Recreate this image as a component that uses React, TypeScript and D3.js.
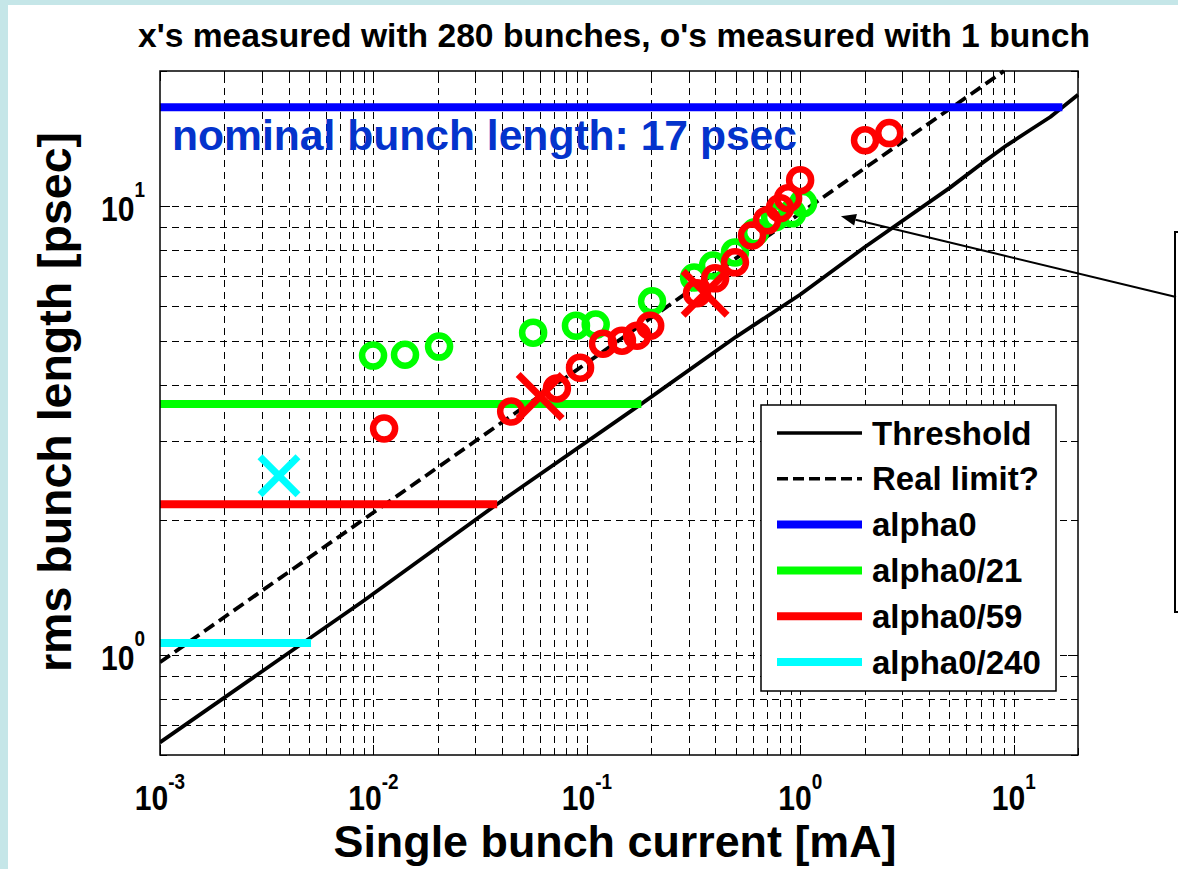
import React from "react";
import * as d3 from "d3";

// ---------- data ----------
const xDomain: [number, number] = [1e-3, 20];
const yDomain: [number, number] = [0.6, 20];

const xMajorTicks = [1e-3, 1e-2, 1e-1, 1, 10];
const xTickExponents = ["-3", "-2", "-1", "0", "1"];
const yMajorTicks = [1, 10];
const yTickExponents = ["0", "1"];

// Threshold (solid black)
const thresholdX = [0.001, 0.00893, 0.0379, 0.18, 0.5, 1.0, 2.0, 5.03, 7.11, 9.31, 11.94, 14.83, 20];
const thresholdY = [0.64, 1.32, 2.17, 3.63, 5.12, 6.36, 8.1, 11.0, 12.47, 13.68, 14.78, 15.8, 17.7];

// "Real limit?" (dashed black)
const realLimitX = [0.001, 0.01, 0.1, 1, 9];
const realLimitY = [0.965, 2.08, 4.48, 9.65, 20];

// Horizontal bunch-length lines
const alphaLabels = ["alpha0", "alpha0/21", "alpha0/59", "alpha0/240"];
const alphaColors = ["#0000ff", "#00ff00", "#ff0000", "#00ffff"];
const alphaLevel = [16.6, 3.63, 2.17, 1.065];
const alphaEndX = [16.9, 0.18, 0.038, 0.0051];

// o's measured with 1 bunch
const greenCircX = [0.00996, 0.01406, 0.0203, 0.056, 0.0889, 0.11, 0.202, 0.318, 0.39, 0.494, 0.614, 0.762, 0.916, 1.03];
const greenCircY = [4.65, 4.67, 4.87, 5.23, 5.42, 5.45, 6.14, 6.94, 7.38, 7.89, 8.75, 9.45, 9.64, 10.16];
const redCircX = [0.01122, 0.0442, 0.0724, 0.0929, 0.119, 0.146, 0.172, 0.198, 0.328, 0.399, 0.494, 0.594, 0.698, 0.803, 0.877, 0.998, 2.01, 2.61];
const redCircY = [3.2, 3.49, 3.93, 4.37, 4.94, 5.02, 5.15, 5.42, 6.4, 6.91, 7.5, 8.61, 9.3, 9.9, 10.42, 11.43, 14.03, 14.55];

// x's measured with 280 bunches
const redCrossX = [0.0604, 0.358];
const redCrossY = [3.77, 6.4];
const cyanCrossX = [0.00361];
const cyanCrossY = [2.51];

// ---------- layout ----------
const W = 1178;
const H = 869;
const PL = 160, PR = 1078, PT = 71, PB = 755;
const FONT = "'Liberation Sans', Arial, Helvetica, sans-serif";

export default function App() {
  const x = d3.scaleLog().domain(xDomain).range([PL, PR]);
  const y = d3.scaleLog().domain(yDomain).range([PB, PT]);
  const line = d3
    .line<[number, number]>()
    .x((d) => x(d[0]))
    .y((d) => y(d[1]));
  const crisp = (v: number) => Math.round(v) + 0.5;

  const xGrid: number[] = [];
  for (let e = -3; e <= 1; e++)
    for (let k = 1; k <= 9; k++) {
      const v = k * Math.pow(10, e);
      if (v >= xDomain[0] * 0.999 && v <= xDomain[1] * 1.001) xGrid.push(v);
    }
  xGrid.push(20);
  const yGrid: number[] = [];
  for (let e = -1; e <= 1; e++)
    for (let k = 1; k <= 9; k++) {
      const v = k * Math.pow(10, e);
      if (v >= yDomain[0] * 0.999 && v <= yDomain[1] * 1.001) yGrid.push(v);
    }
  yGrid.push(20);

  const isMajor = (v: number) => Math.abs(Math.log10(v) - Math.round(Math.log10(v))) < 1e-6;

  const threshold = thresholdX.map((v, i) => [v, thresholdY[i]] as [number, number]);
  const realLimit = realLimitX.map((v, i) => [v, realLimitY[i]] as [number, number]);

  const legendRows = [
    { label: "Threshold", color: "#000", width: 3.5, dash: undefined as string | undefined },
    { label: "Real limit?", color: "#000", width: 3.5, dash: "11,5" },
    ...alphaLabels.map((l, i) => ({ label: l, color: alphaColors[i], width: 8, dash: undefined as string | undefined })),
  ];

  const cross = (cx: number, cy: number, s: number, color: string, key: string) => (
    <g key={key} stroke={color} strokeWidth={7} strokeLinecap="butt">
      <line x1={cx - s} y1={cy - s} x2={cx + s} y2={cy + s} />
      <line x1={cx - s} y1={cy + s} x2={cx + s} y2={cy - s} />
    </g>
  );

  const arrowTipX = x(1.55);
  const arrowTipY = y(9.5);
  const arrowTailX = 1176, arrowTailY = 297;
  const ang = Math.atan2(arrowTipY - arrowTailY, arrowTipX - arrowTailX);
  const ah = 15, aw = 6;
  const bx = arrowTipX - ah * Math.cos(ang), by = arrowTipY - ah * Math.sin(ang);
  const headPts = [
    [arrowTipX, arrowTipY],
    [bx + aw * Math.sin(ang), by - aw * Math.cos(ang)],
    [bx - aw * Math.sin(ang), by + aw * Math.cos(ang)],
  ]
    .map((p) => p.join(","))
    .join(" ");

  const TSX = 0.86; // horizontal squeeze of tick labels

  return (
    <svg
      width={W}
      height={H}
      style={{ position: "absolute", left: 0, top: 0, display: "block" }}
      fontFamily={FONT}
      fontWeight="bold"
    >
      <defs>
        <clipPath id="plotClip">
          <rect x={PL} y={PT - 2} width={PR - PL + 4} height={PB - PT + 2} />
        </clipPath>
      </defs>
      <rect x={0} y={0} width={W} height={H} fill="#c5e6e8" />
      <rect x={8} y={5} width={W - 8} height={H - 5} fill="#ffffff" />

      {/* title */}
      <text x={614} y={47} textAnchor="middle" fontSize={33} textLength={952} lengthAdjust="spacingAndGlyphs">
        x's measured with 280 bunches, o's measured with 1 bunch
      </text>

      {/* plot background */}
      <rect x={PL} y={PT} width={PR - PL} height={PB - PT} fill="#fff" />

      {/* grid */}
      <g stroke="#000" strokeWidth={1} strokeDasharray="7,5" shapeRendering="crispEdges">
        {xGrid
          .filter((v) => x(v) > PL + 1 && x(v) < PR - 1)
          .map((v, i) => (
            <line key={"gx" + i} x1={crisp(x(v))} x2={crisp(x(v))} y1={PB} y2={PT} />
          ))}
        {yGrid
          .filter((v) => y(v) > PT + 1 && y(v) < PB - 1)
          .map((v, i) => (
            <line key={"gy" + i} x1={PL} x2={PR} y1={crisp(y(v))} y2={crisp(y(v))} />
          ))}
      </g>

      {/* ticks */}
      <g stroke="#000" strokeWidth={1} shapeRendering="crispEdges">
        {xGrid.map((v, i) => {
          const L = isMajor(v) ? 10 : 7;
          const xx = crisp(x(v));
          return (
            <g key={"tx" + i}>
              <line x1={xx} x2={xx} y1={PB} y2={PB - L} />
              <line x1={xx} x2={xx} y1={PT} y2={PT + L} />
            </g>
          );
        })}
        {yGrid.map((v, i) => {
          const L = isMajor(v) ? 10 : 7;
          const yy = crisp(y(v));
          return (
            <g key={"ty" + i}>
              <line x1={PL} x2={PL + L} y1={yy} y2={yy} />
              <line x1={PR} x2={PR - L} y1={yy} y2={yy} />
            </g>
          );
        })}
      </g>

      {/* data lines */}
      <g clipPath="url(#plotClip)">
        <path d={line(threshold) || ""} fill="none" stroke="#000" strokeWidth={3.8} strokeLinejoin="round" />
        <path d={line(realLimit) || ""} fill="none" stroke="#000" strokeWidth={3.8} strokeDasharray="12,6" />
        {alphaLevel.map((lv, i) => (
          <path
            key={"al" + i}
            d={line([[xDomain[0], lv], [alphaEndX[i], lv]]) || ""}
            stroke={alphaColors[i]}
            strokeWidth={8}
            fill="none"
          />
        ))}
      </g>

      {/* circles */}
      <g fill="none" strokeWidth={6.5}>
        {greenCircX.map((v, i) => (
          <circle key={"gc" + i} cx={x(v)} cy={y(greenCircY[i])} r={11} stroke="#00ff00" />
        ))}
        {redCircX.map((v, i) => (
          <circle key={"rc" + i} cx={x(v)} cy={y(redCircY[i])} r={11} stroke="#ff0000" />
        ))}
      </g>
      {redCrossX.map((v, i) => cross(x(v), y(redCrossY[i]), 22, "#ff0000", "rx" + i))}
      {cyanCrossX.map((v, i) => cross(x(v), y(cyanCrossY[i]), 19, "#00ffff", "cx" + i))}

      {/* nominal text */}
      <text x={172} y={150} fontSize={42} fill="#0433cc" textLength={625} lengthAdjust="spacingAndGlyphs">
        nominal bunch length: 17 psec
      </text>

      {/* frame */}
      <rect x={PL} y={PT} width={PR - PL} height={PB - PT} fill="none" stroke="#000" strokeWidth={1.5} />

      {/* legend */}
      <rect x={761} y={405} width={295} height={286} fill="#fff" stroke="#000" strokeWidth={1.5} />
      {legendRows.map((r, i) => {
        const cy = 433 + i * 45.8;
        return (
          <g key={"lg" + i}>
            <line x1={777} x2={862} y1={cy} y2={cy} stroke={r.color} strokeWidth={r.width} strokeDasharray={r.dash} />
            <text x={872} y={cy + 11.5} fontSize={33}>
              {r.label}
            </text>
          </g>
        );
      })}

      {/* tick labels */}
      {xMajorTicks.map((v, i) => (
        <g key={"xl" + i} transform={`translate(${x(v)}, 810) scale(${TSX}, 1)`}>
          <text x={0} y={0} textAnchor="middle" fontSize={35}>
            <tspan>10</tspan>
            <tspan dy={-21} fontSize={22}>
              {xTickExponents[i]}
            </tspan>
          </text>
        </g>
      ))}
      {yMajorTicks.map((v, i) => (
        <g key={"yl" + i} transform={`translate(145, ${y(v) + 15}) scale(${TSX}, 1)`}>
          <text x={0} y={0} textAnchor="end" fontSize={35}>
            <tspan>10</tspan>
            <tspan dy={-24} fontSize={22}>
              {yTickExponents[i]}
            </tspan>
          </text>
        </g>
      ))}

      {/* axis labels */}
      <text x={615} y={857} textAnchor="middle" fontSize={44} textLength={563} lengthAdjust="spacingAndGlyphs">
        Single bunch current [mA]
      </text>
      <text
        transform={`translate(71, ${402}) rotate(-90)`}
        textAnchor="middle"
        fontSize={46}
        textLength={540}
        lengthAdjust="spacingAndGlyphs"
      >
        rms bunch length [psec]
      </text>

      {/* annotation box and arrow */}
      <rect x={1175} y={232} width={30} height={380} fill="#fff" stroke="#000" strokeWidth={2} />
      <line x1={arrowTailX} y1={arrowTailY} x2={bx} y2={by} stroke="#000" strokeWidth={2} />
      <polygon points={headPts} fill="#000" />
    </svg>
  );
}
